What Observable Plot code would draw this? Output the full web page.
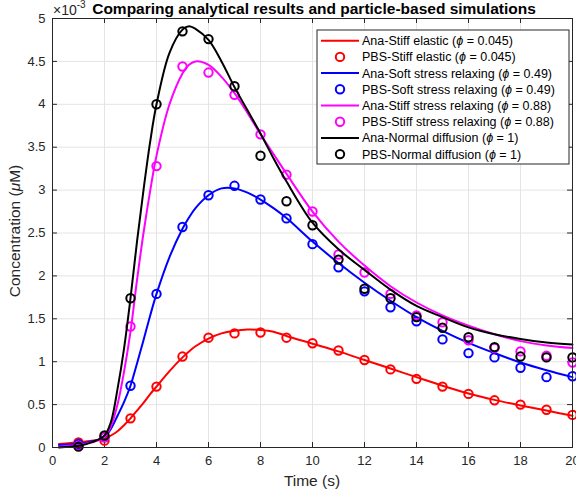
<!DOCTYPE html>
<html>
<head>
<meta charset="utf-8">
<script src="https://cdn.jsdelivr.net/npm/d3@7"></script>
<script src="https://cdn.jsdelivr.net/npm/@observablehq/plot@0.6"></script>
<style>
  html, body { margin: 0; padding: 0; background: #fff; }
  #chart svg { font-family: "Liberation Sans", Arial, Helvetica, sans-serif; }
</style>
</head>
<body>
<div id="chart"></div>
<script>
// ---------- data (concentration in units of 1e-3 µM) ----------
const pbsTime = [1,2,3,4,5,6,7,8,9,10,11,12,13,14,15,16,17,18,19,20];
const pbsStiffElastic   = [0.06,0.08,0.34,0.71,1.06,1.28,1.33,1.34,1.28,1.215,1.13,1.02,0.91,0.80,0.71,0.625,0.55,0.50,0.44,0.38];
const pbsSoftRelaxing   = [0.04,0.12,0.72,1.79,2.57,2.94,3.05,2.89,2.67,2.37,2.10,1.82,1.635,1.47,1.26,1.10,1.05,0.93,0.82,0.83];
const pbsStiffRelaxing  = [0.02,0.12,1.41,3.28,4.44,4.37,4.11,3.65,3.18,2.75,2.25,2.04,1.79,1.54,1.46,1.25,1.16,1.12,1.07,0.99];
const pbsNormal         = [0.01,0.14,1.74,4.00,4.85,4.76,4.21,3.40,2.87,2.59,2.19,1.85,1.74,1.52,1.395,1.285,1.17,1.06,1.05,1.05];

const anaTime = [0.25,1,1.5,2,2.25,2.5,2.75,3,3.25,3.5,3.75,4,4.5,5,5.25,5.5,6,6.5,7,7.5,8,8.5,9,10,11,12,13,14,15,16,17,18,19,20];
const anaStiffElastic  = [0.04,0.06,0.08,0.10,0.14,0.19,0.26,0.34,0.43,0.52,0.62,0.71,0.89,1.05,1.12,1.18,1.27,1.33,1.36,1.375,1.37,1.35,1.30,1.21,1.12,1.02,0.92,0.82,0.72,0.63,0.555,0.49,0.43,0.37];
const anaSoftRelaxing  = [0.03,0.045,0.07,0.12,0.22,0.37,0.53,0.72,0.98,1.25,1.53,1.79,2.22,2.55,2.68,2.79,2.94,3.02,3.02,2.97,2.89,2.79,2.675,2.40,2.15,1.92,1.71,1.52,1.36,1.22,1.10,0.99,0.90,0.82];
const anaStiffRelaxing = [0.01,0.03,0.06,0.12,0.25,0.50,0.88,1.35,1.95,2.50,2.98,3.40,4.00,4.36,4.46,4.50,4.46,4.32,4.13,3.90,3.65,3.42,3.19,2.75,2.40,2.12,1.88,1.69,1.54,1.42,1.32,1.24,1.19,1.16];
const anaNormal        = [0.00,0.02,0.06,0.14,0.30,0.68,1.15,1.74,2.40,3.00,3.55,4.00,4.60,4.87,4.91,4.88,4.75,4.50,4.20,3.93,3.66,3.37,3.10,2.62,2.31,2.07,1.84,1.65,1.52,1.40,1.32,1.265,1.225,1.20];

const seriesNames  = ["Stiff elastic", "Soft stress relaxing", "Stiff stress relaxing", "Normal diffusion"];
const seriesPhi    = ["0.045", "0.49", "0.88", "1"];
const seriesColors = ["#ff0000", "#0000ff", "#ff00ff", "#000000"];
const anaValues = [anaStiffElastic, anaSoftRelaxing, anaStiffRelaxing, anaNormal];
const pbsValues = [pbsStiffElastic, pbsSoftRelaxing, pbsStiffRelaxing, pbsNormal];

const xTicks = [0,2,4,6,8,10,12,14,16,18,20];
const yTicks = [0,0.5,1,1.5,2,2.5,3,3.5,4,4.5,5];

const titleText = "Comparing analytical results and particle-based simulations";
const xLabel = "Time (s)";

// ---------- build tables ----------
const anaRows = [], pbsRows = [];
seriesNames.forEach((name, i) => {
  anaTime.forEach((t, j) => anaRows.push({series: i, t, c: anaValues[i][j]}));
  pbsTime.forEach((t, j) => pbsRows.push({series: i, t, c: pbsValues[i][j]}));
});

const W = 576, H = 493;
const axisColor = "#262626";
const gridColor = "#e4e4e4";

const marks = [
  Plot.gridX(xTicks, {stroke: gridColor, strokeOpacity: 1}),
  Plot.gridY(yTicks, {stroke: gridColor, strokeOpacity: 1}),
  // inward ticks (bottom/top/left/right)
  Plot.ruleX(xTicks, {x: d => d, y1: 0, y2: 0.058, stroke: axisColor}),
  Plot.ruleX(xTicks, {x: d => d, y1: 5, y2: 4.942, stroke: axisColor}),
  Plot.ruleY(yTicks, {y: d => d, x1: 0, x2: 0.19, stroke: axisColor}),
  Plot.ruleY(yTicks, {y: d => d, x1: 20, x2: 19.81, stroke: axisColor}),
  Plot.axisX(xTicks, {tickSize: 0, tickPadding: 8.5, fontSize: 13, fill: axisColor, label: null}),
  Plot.axisY(yTicks, {tickSize: 0, tickPadding: 7, fontSize: 13, fill: axisColor, label: null, tickFormat: d => d3.format("~g")(d)})
];
seriesNames.forEach((name, i) => {
  marks.push(Plot.line(anaRows.filter(r => r.series === i), {x: "t", y: "c", stroke: seriesColors[i], strokeWidth: 2, curve: "catmull-rom"}));
  marks.push(Plot.dot(pbsRows.filter(r => r.series === i), {x: "t", y: "c", stroke: seriesColors[i], strokeWidth: 2, r: 4.2, fill: "none"}));
});
marks.push(Plot.frame({stroke: axisColor, strokeWidth: 1}));

const chart = Plot.plot({
  width: W, height: H,
  marginLeft: 52, marginRight: 4, marginTop: 18, marginBottom: 46,
  x: {domain: [0, 20], axis: null},
  y: {domain: [0, 5], axis: null},
  style: {fontFamily: "Liberation Sans, Arial, Helvetica, sans-serif", background: "#fff", overflow: "visible"},
  marks
});
document.getElementById("chart").append(chart);

// ---------- annotations ----------
const svg = d3.select(chart);
const fam = "Liberation Sans, Arial, Helvetica, sans-serif";

svg.append("text").attr("x", 314).attr("y", 14).attr("text-anchor", "middle")
  .attr("font-family", fam).attr("font-size", 15.5).attr("font-weight", "bold").attr("fill", "#000")
  .text(titleText);

const ex = svg.append("text").attr("x", 53).attr("y", 15).attr("text-anchor", "start")
  .attr("font-family", fam).attr("font-size", 14).attr("fill", axisColor);
ex.append("tspan").text("\u00d710");
ex.append("tspan").attr("dy", -7).attr("font-size", 10).text("-3");

svg.append("text").attr("x", 312).attr("y", 486).attr("text-anchor", "middle")
  .attr("font-family", fam).attr("font-size", 15.5).attr("fill", axisColor).text(xLabel);

const yl = svg.append("text").attr("transform", "translate(20,231) rotate(-90)").attr("text-anchor", "middle")
  .attr("font-family", fam).attr("font-size", 15.5).attr("fill", axisColor);
yl.append("tspan").text("Concentration (");
yl.append("tspan").attr("font-style", "italic").text("\u03bc");
yl.append("tspan").text("M)");

// legend
const lg = svg.append("g");
lg.append("rect").attr("x", 317).attr("y", 30).attr("width", 252).attr("height", 134)
  .attr("fill", "#fff").attr("stroke", axisColor).attr("stroke-width", 1);
let row = 0;
seriesNames.forEach((name, i) => {
  ["Ana", "PBS"].forEach(kind => {
    const cy = 40.7 + row * 16.2;
    if (kind === "Ana") {
      lg.append("line").attr("x1", 321).attr("x2", 359).attr("y1", cy).attr("y2", cy)
        .attr("stroke", seriesColors[i]).attr("stroke-width", 2);
    } else {
      lg.append("circle").attr("cx", 340).attr("cy", cy).attr("r", 4.2)
        .attr("fill", "none").attr("stroke", seriesColors[i]).attr("stroke-width", 2);
    }
    const t = lg.append("text").attr("x", 362).attr("y", cy + 4.5).attr("text-anchor", "start")
      .attr("font-family", fam).attr("font-size", 12.5).attr("fill", "#000");
    t.append("tspan").text(`${kind}-${name} (`);
    t.append("tspan").attr("font-style", "italic").text("\u03d5");
    t.append("tspan").text(` = ${seriesPhi[i]})`);
    row++;
  });
});
</script>
</body>
</html>
